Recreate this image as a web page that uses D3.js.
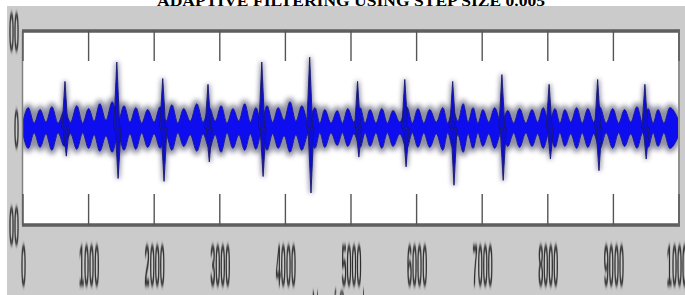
<!DOCTYPE html>
<html><head><meta charset="utf-8">
<script src="https://cdn.jsdelivr.net/npm/d3@7"></script>
<style>html,body{margin:0;padding:0;background:#fff;overflow:hidden}</style>
</head><body>
<svg id="chart" width="685" height="295"></svg>
<script>
const titleText = "ADAPTIVE FILTERING USING STEP SIZE 0.005";
const xTickValues = [0,1000,2000,3000,4000,5000,6000,7000,8000,9000,10000];
const xTickLabels = ["0","1000","2000","3000","4000","5000","6000","7000","8000","9000","10000"];
const yTickValues = [100, 0, -100];
const yTickLabels = ["00","0","00"];
const xAxisLabel = "No. of Samples";

// lobe peaks of the filtered signal envelope
const lobeSample = [80,260,440,630,820,1000,1170,1360,1540,1720,
  1900,2090,2270,2450,2650,2840,3020,3200,3380,3550,
  3720,3890,4070,4250,4450,4600,4790,4950,5140,5290,
  5470,5640,5850,6020,6200,6400,6550,6710,6860,7010,
  7190,7390,7570,7760,7930,8110,8260,8440,8610,8790,
  8990,9170,9360,9530,9680,9860];
const lobeUpper = [21,19,22,18,23,20,25,27,23,21,
  19,22,24,20,25,21,23,20,25,21,
  23,21,27,23,21,19,18,20,21,19,
  20,18,22,20,19,21,19,25,21,19,
  21,18,20,19,21,20,19,21,20,22,
  20,19,22,20,19,21];
const lobeLower = [-21,-20,-23,-19,-22,-21,-24,-25,-23,-22,
  -20,-21,-23,-19,-24,-21,-25,-21,-23,-22,
  -23,-21,-25,-23,-21,-20,-18,-19,-20,-19,
  -21,-19,-21,-20,-20,-23,-20,-25,-21,-19,
  -21,-19,-20,-19,-21,-20,-19,-21,-20,-22,
  -21,-19,-21,-20,-19,-21];
// narrow necks between lobes
const neckSample = [0,170,350,535,725,910,1085,1265,1450,1630,
  1810,2000,2180,2360,2550,2745,2930,3110,3290,3465,
  3635,3805,3980,4160,4350,4525,4695,4870,5045,5215,
  5380,5555,5745,5935,6110,6300,6475,6630,6785,6935,
  7100,7290,7480,7665,7845,8020,8185,8350,8525,8700,
  8890,9080,9265,9445,9605,9770,10000];
const neckAmp = [7,5,6,5,6,5,7,8,7,6,
  5,6,7,5,7,6,7,5,7,6,
  6,6,8,7,6,5,5,5,6,5,
  5,5,6,5,5,6,5,7,6,5,
  6,5,5,5,6,5,5,6,5,6,
  5,5,6,5,5,5,7];
// isolated spikes
const spikeSample = [640,1430,2130,2820,3640,4370,5100,5820,6550,7300,8020,8760,9480];
const spikeHigh = [48,68,51,45,68,73,48,50,48,55,45,50,45];
const spikeLow = [-29,-52,-55,-35,-50,-67,-30,-40,-59,-54,-32,-44,-32];

const svg = d3.select("#chart");
const defs = svg.append("defs");
const mkBlur = (id, s) => defs.append("filter").attr("id", id)
  .attr("x","-20%").attr("y","-20%").attr("width","140%").attr("height","140%")
  .append("feGaussianBlur").attr("stdDeviation", s);
mkBlur("bSoft", 0.7); mkBlur("bHalo", 2.4); mkBlur("bText", 0.45); mkBlur("bLine", 0.7);

const x = d3.scaleLinear().domain([0,10000]).range([23,679]);
const y = d3.scaleLinear().domain([-100,100]).range([225,31]);

// background
svg.append("rect").attr("x",7).attr("y",6).attr("width",685).attr("height",295).attr("fill","#cbcbcb");
svg.append("rect").attr("x",x(0)).attr("y",y(100)).attr("width",x(10000)-x(0)).attr("height",y(-100)-y(100)).attr("fill","#ffffff");

// title
svg.append("text").attr("x",351).attr("y",5.5).attr("text-anchor","middle")
  .attr("font-family","Liberation Serif, Times New Roman, serif").attr("font-weight","bold")
  .attr("font-size",15).attr("textLength",388).attr("lengthAdjust","spacingAndGlyphs")
  .attr("fill","#000").text(titleText);

defs.append("clipPath").attr("id","plotClip").append("rect")
  .attr("x",x(0)).attr("y",y(100)).attr("width",x(10000)-x(0)).attr("height",y(-100)-y(100));

// envelope data
const env = lobeSample.map((s,i)=>({s, up:lobeUpper[i], lo:lobeLower[i]}))
  .concat(neckSample.map((s,i)=>({s, up:neckAmp[i], lo:-neckAmp[i]})))
  .sort((a,b)=>a.s-b.s);
const area = d3.area().x(d=>x(d.s)).y0(d=>y(d.lo)).y1(d=>y(d.up)).curve(d3.curveMonotoneX);
const sArea = d3.area().x(d=>x(d.s)).y0(d=>y(d.lo)).y1(d=>y(d.up));

const g = svg.append("g").attr("clip-path","url(#plotClip)");
const spikeUp = spikeSample.map((s,i)=>[{s:s-45,up:0,lo:0},{s:s,up:spikeHigh[i],lo:0},{s:s+45,up:0,lo:0}]);
const spikeDn = spikeSample.map((s,i)=>[{s:s-25,up:0,lo:0},{s:s+20,up:0,lo:spikeLow[i]},{s:s+65,up:0,lo:0}]);
const spikes = spikeUp.concat(spikeDn);

// halo
const halo = g.append("g").attr("filter","url(#bHalo)").attr("opacity",0.85);
halo.append("path").attr("d",area(env)).attr("fill","#7c7c92").attr("stroke","#7c7c92").attr("stroke-width",8).attr("stroke-linejoin","round");
halo.selectAll(".sh").data(spikes).join("path").attr("d",d=>sArea(d)).attr("fill","#6c6c88").attr("stroke","#6c6c88").attr("stroke-width",3);
// core
const core = g.append("g").attr("filter","url(#bSoft)");
core.append("path").attr("d",area(env)).attr("fill","#0c0cf0").attr("stroke","#1a1a9a").attr("stroke-width",1);
core.selectAll(".sp").data(spikes).join("path").attr("d",d=>sArea(d)).attr("fill","#1010d8").attr("stroke","#16166e").attr("stroke-width",0.9);

// frame
const frame = svg.append("g").attr("filter","url(#bLine)");
frame.append("line").attr("x1",x(0)-1).attr("x2",x(10000)+1).attr("y1",y(100)).attr("y2",y(100)).attr("stroke","#5e5e5e").attr("stroke-width",3.5);
frame.append("line").attr("x1",x(0)-1).attr("x2",x(10000)+1).attr("y1",y(-100)).attr("y2",y(-100)).attr("stroke","#5e5e5e").attr("stroke-width",3.5);
frame.append("line").attr("x1",x(0)-0.5).attr("x2",x(0)-0.5).attr("y1",y(100)).attr("y2",y(-100)).attr("stroke","#808080").attr("stroke-width",1.5);
frame.append("line").attr("x1",x(10000)).attr("x2",x(10000)).attr("y1",y(100)).attr("y2",y(-100)).attr("stroke","#909090").attr("stroke-width",2);
frame.selectAll(".tt").data(xTickValues).join("line").attr("x1",d=>x(d)).attr("x2",d=>x(d))
  .attr("y1",y(100)).attr("y2",y(100)+30).attr("stroke","#555").attr("stroke-width",1.4);
frame.selectAll(".tb").data(xTickValues).join("line").attr("x1",d=>x(d)).attr("x2",d=>x(d))
  .attr("y1",y(-100)-31).attr("y2",y(-100)).attr("stroke","#555").attr("stroke-width",1.4);

// axes (labels stretched like the reference)
const xAxis = svg.append("g").attr("transform",`translate(0,${y(-100)})`)
  .call(d3.axisBottom(x).tickValues(xTickValues).tickFormat((d,i)=>xTickLabels[i]).tickSize(0));
xAxis.select(".domain").remove();
xAxis.selectAll("text").attr("y",0).attr("dy","0.36em")
  .attr("transform","translate(0,39) scale(0.7,4.6)")
  .attr("font-family","Liberation Sans, Arial, sans-serif").attr("font-size",13).attr("font-weight","bold")
  .attr("fill","#2e2e2e").attr("filter","url(#bText)");

const yAxis = svg.append("g").attr("transform",`translate(${x(0)},0)`)
  .call(d3.axisLeft(y).tickValues(yTickValues).tickFormat((d,i)=>yTickLabels[i]).tickSize(0));
yAxis.select(".domain").remove();
yAxis.selectAll("text").attr("x",0).attr("dy","0.36em")
  .attr("transform","translate(-4,0) scale(0.7,4.2)")
  .attr("font-family","Liberation Sans, Arial, sans-serif").attr("font-size",13).attr("font-weight","bold")
  .attr("fill","#2e2e2e").attr("filter","url(#bText)");

// x axis label (mostly cut off by the bottom edge)
svg.append("text").attr("transform","translate(343,289) scale(0.7,4.7)").attr("dy","0.72em")
  .attr("text-anchor","middle").attr("font-family","Liberation Sans, Arial, sans-serif")
  .attr("font-size",13).attr("fill","#2a2a2a").attr("filter","url(#bText)").text(xAxisLabel);

// white left margin
svg.append("rect").attr("x",0).attr("y",0).attr("width",7).attr("height",295).attr("fill","#fff");
</script>
</body></html>
